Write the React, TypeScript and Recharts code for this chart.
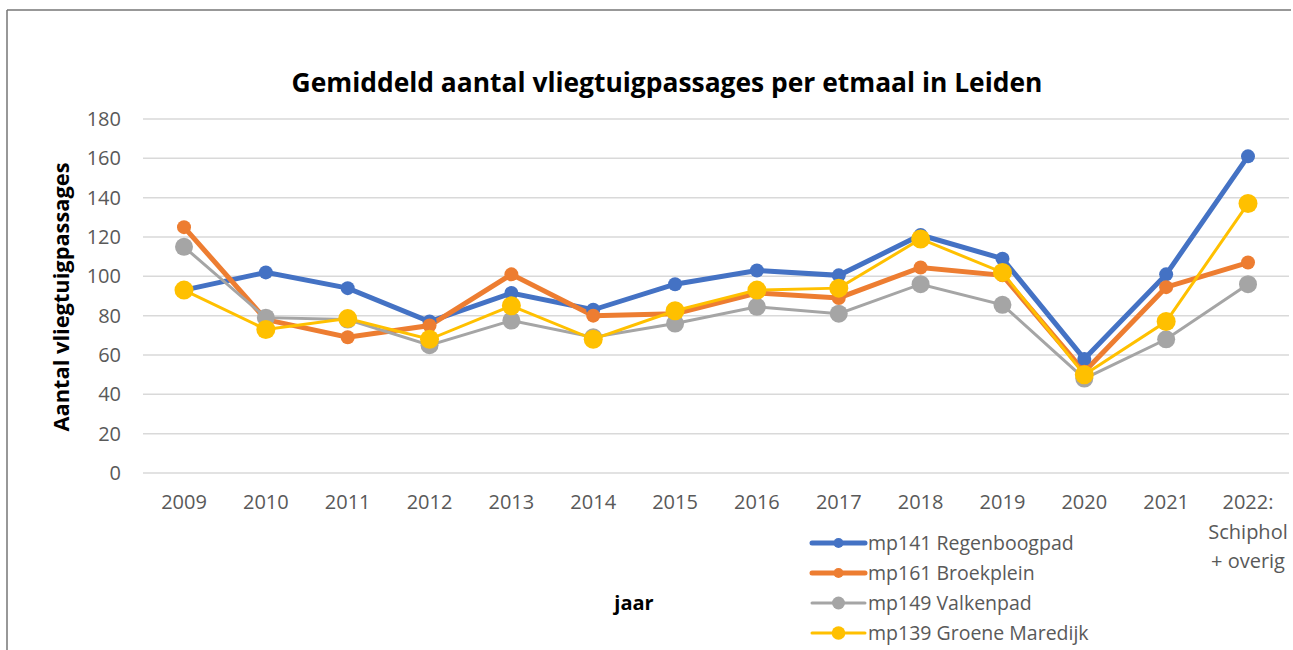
import React from "react";
import { LineChart, Line, XAxis, YAxis, CartesianGrid, Legend } from "recharts";

const categories = ["2009", "2010", "2011", "2012", "2013", "2014", "2015", "2016", "2017", "2018", "2019", "2020", "2021", "2022:\nSchiphol\n+ overig"];
const regenboogpad = [93, 102, 94, 77, 91.5, 83, 96, 103, 100.5, 121, 109, 58, 101, 161];
const broekplein = [125, 78, 69, 75, 101, 80, 81, 91.5, 89, 104.5, 100.5, 51.5, 94.5, 107];
const valkenpad = [115, 79, 78, 65, 77.5, 69, 76, 84.5, 81, 96, 85.5, 48, 68, 96];
const groeneMaredijk = [93, 73, 78.5, 68, 85, 68, 82.5, 93, 94, 119, 102, 50, 77, 137];
const yTicks = [0, 20, 40, 60, 80, 100, 120, 140, 160, 180];

const seriesNames = ["mp141 Regenboogpad", "mp161 Broekplein", "mp149 Valkenpad", "mp139 Groene Maredijk"];

const data = categories.map((c, i) => ({
  jaar: c,
  s1: regenboogpad[i],
  s2: broekplein[i],
  s3: valkenpad[i],
  s4: groeneMaredijk[i],
}));

const FONT = "'Open Sans', sans-serif";
const TICK_COLOR = "#595959";

const series = [
  { key: "s1", name: seriesNames[0], color: "#4472C4", width: 5, r: 7 },
  { key: "s2", name: seriesNames[1], color: "#ED7D31", width: 5, r: 7 },
  { key: "s3", name: seriesNames[2], color: "#A5A5A5", width: 3, r: 9 },
  { key: "s4", name: seriesNames[3], color: "#FFC000", width: 3, r: 9.5 },
];

const XTick = (props: any) => {
  const { x, y, payload } = props;
  const lines = String(payload.value).split("\n");
  return (
    <g>
      {lines.map((l, i) => (
        <text key={i} x={x} y={y + 28 + i * 29.5} textAnchor="middle" fill={TICK_COLOR} fontSize={20} fontFamily={FONT}>
          {l}
        </text>
      ))}
    </g>
  );
};

const LegendContent = () => {
  return (
    <svg width={300} height={130} style={{ display: "block" }}>
      {series.map((s, i) => {
        const cy = 13 + i * 30;
        return (
          <g key={s.key}>
            <line x1={7} x2={60} y1={cy} y2={cy} stroke={s.color} strokeWidth={s.width} strokeLinecap="round" />
            <circle cx={33.5} cy={cy} r={s.r * 0.72} fill={s.color} />
            <text x={63} y={cy + 7} fill={TICK_COLOR} fontSize={19.5} fontFamily={FONT}>
              {s.name}
            </text>
          </g>
        );
      })}
    </svg>
  );
};

export default function App() {
  return (
    <div style={{ position: "absolute", left: 0, top: 0, width: 1293, height: 650, background: "#fff", overflow: "hidden" }}>
      <svg width={1293} height={650} style={{ position: "absolute", left: 0, top: 0 }}>
        <line x1={7} y1={10} x2={1291} y2={10} stroke="#767676" strokeWidth={1.5} />
        <line x1={7} y1={10} x2={7} y2={650} stroke="#767676" strokeWidth={1.5} />
        <text x={667} y={92} textAnchor="middle" fontSize={26.4} fontWeight="bold" fontFamily={FONT} fill="#000">
          Gemiddeld aantal vliegtuigpassages per etmaal in Leiden
        </text>
        <text x={69} y={297} transform="rotate(-90 69 297)" textAnchor="middle" fontSize={21.8} fontWeight="bold" fontFamily={FONT} fill="#000">
          Aantal vliegtuigpassages
        </text>
        <text x={634} y={610} textAnchor="middle" fontSize={20} fontWeight="bold" fontFamily={FONT} fill="#000">
          jaar
        </text>
      </svg>
      <div style={{ position: "absolute", left: 0, top: 0 }}>
        <LineChart width={1293} height={650} data={data} margin={{ top: 119, right: 4, left: 0, bottom: 147 }}>
          <CartesianGrid vertical={false} stroke="#D9D9D9" strokeWidth={1.5} />
          <XAxis
            dataKey="jaar"
            axisLine={false}
            tickLine={false}
            height={30}
            interval={0}
            padding={{ left: 41, right: 41 }}
            tick={<XTick />}
          />
          <YAxis
            width={143}
            domain={[0, 180]}
            ticks={yTicks}
            axisLine={false}
            tickLine={false}
            tickMargin={16}
            tick={{ fill: TICK_COLOR, fontSize: 20, fontFamily: FONT }}
          />
          <Legend
            layout="vertical"
            verticalAlign="middle"
            align="center"
            wrapperStyle={{ left: 805, top: 530, width: 300, height: 130 }}
            content={<LegendContent />}
          />
          {series.map((s) => (
            <Line
              key={s.key}
              type="linear"
              dataKey={s.key}
              name={s.name}
              stroke={s.color}
              strokeWidth={s.width}
              dot={{ r: s.r, fill: s.color, stroke: s.color, strokeWidth: 0 }}
              activeDot={false}
              isAnimationActive={false}
            />
          ))}
        </LineChart>
      </div>
    </div>
  );
}
